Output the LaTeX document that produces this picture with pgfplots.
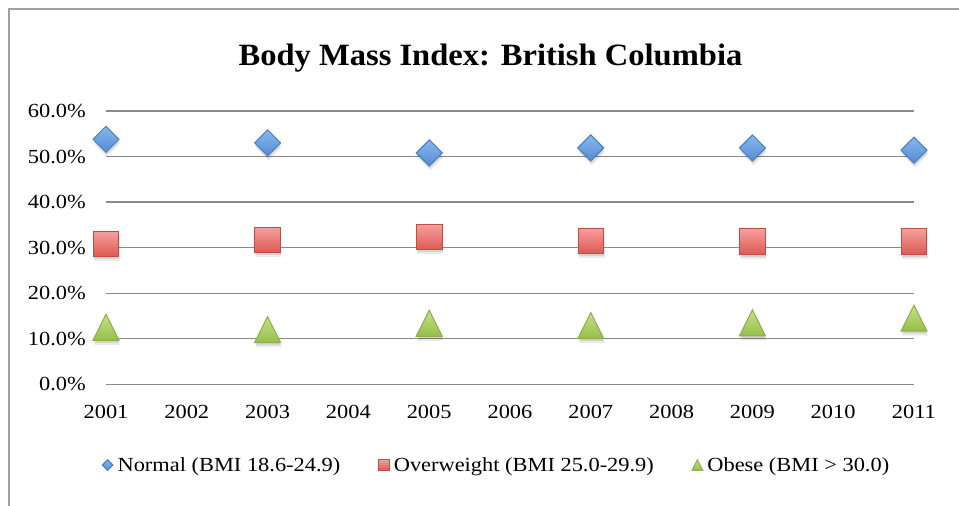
\documentclass[border=0pt]{standalone}
\usepackage{fontspec}
\setmainfont{Liberation Serif}[FakeStretch=1.12]
\newfontfamily\titlefont{Liberation Serif}[FakeStretch=1.05]
\usepackage{pgfplots}
\pgfplotsset{compat=1.18}
\definecolor{nlight}{RGB}{135,185,238}
\definecolor{ndark}{RGB}{85,140,210}
\definecolor{ndraw}{RGB}{70,125,195}
\definecolor{olight}{RGB}{246,160,158}
\definecolor{odark}{RGB}{222,88,82}
\definecolor{odraw}{RGB}{195,75,70}
\definecolor{blight}{RGB}{198,225,135}
\definecolor{bdark}{RGB}{150,190,75}
\definecolor{bdraw}{RGB}{140,175,72}
\definecolor{gridc}{RGB}{138,138,138}
\definecolor{framec}{RGB}{160,160,160}
\pgfdeclareverticalshading{nshade}{100bp}{color(0bp)=(ndark); color(25bp)=(ndark); color(75bp)=(nlight); color(100bp)=(nlight)}
\pgfdeclareverticalshading{oshade}{100bp}{color(0bp)=(odark); color(25bp)=(odark); color(75bp)=(olight); color(100bp)=(olight)}
\pgfdeclareverticalshading{bshade}{100bp}{color(0bp)=(bdark); color(25bp)=(bdark); color(75bp)=(blight); color(100bp)=(blight)}
\def\diapath{%
  \pgfpathmoveto{\pgfqpoint{0pt}{\pgfplotmarksize}}%
  \pgfpathlineto{\pgfqpoint{\pgfplotmarksize}{0pt}}%
  \pgfpathlineto{\pgfqpoint{0pt}{-\pgfplotmarksize}}%
  \pgfpathlineto{\pgfqpoint{-\pgfplotmarksize}{0pt}}%
  \pgfpathclose}
\def\tripath{%
  \pgfpathmoveto{\pgfqpoint{0pt}{\pgfplotmarksize}}%
  \pgfpathlineto{\pgfqpoint{\pgfplotmarksize}{-\pgfplotmarksize}}%
  \pgfpathlineto{\pgfqpoint{-\pgfplotmarksize}{-\pgfplotmarksize}}%
  \pgfpathclose}
\def\sqpath{%
  \pgfpathrectangle{\pgfqpoint{-\pgfplotmarksize}{-\pgfplotmarksize}}{\pgfqpoint{2\pgfplotmarksize}{2\pgfplotmarksize}}}
\pgfdeclareplotmark{xdia}{\diapath\pgfshadepath{nshade}{0}\pgfusepathqstroke}
\pgfdeclareplotmark{xsq}{\sqpath\pgfshadepath{oshade}{0}\pgfusepathqstroke}
\pgfdeclareplotmark{xtri}{\tripath\pgfshadepath{bshade}{0}\pgfusepathqstroke}
\pgfdeclareplotmark{xdiaS}{\diapath\pgfusepathqfill}
\pgfdeclareplotmark{xsqS}{\sqpath\pgfusepathqfill}
\pgfdeclareplotmark{xtriS}{\tripath\pgfusepathqfill}
\pgfplotsset{shadowA/.style={only marks, forget plot, mark options={fill=black, draw=none, fill opacity=0.10, yshift=-2.5bp, xshift=0.5bp}},
  shadowB/.style={only marks, forget plot, mark options={fill=black, draw=none, fill opacity=0.08, yshift=-4.5bp, xshift=1bp}}}
\pgfplotstableread{
x n o b
2001 53.8 30.8 12.5
2003 53.0 31.7 12.0
2005 50.8 32.3 13.4
2007 51.9 31.5 12.9
2009 51.9 31.3 13.5
2011 51.4 31.3 14.5
}\bmidata
\begin{document}
\begin{tikzpicture}[x=1bp,y=1bp]
\useasboundingbox (0,0) rectangle (959,506);
\fill[white] (0,0) rectangle (959,506);
\draw[framec, line width=1.5bp] (9,0) -- (9,497) -- (959,497);
\node[font=\fontsize{31bp}{36bp}\titlefont\bfseries, anchor=base] at (490.5,440.5) {Body Mass Index: British Columbia};
\begin{axis}[
  at={(106bp,121.7bp)}, anchor=south west,
  scale only axis, width=808bp, height=273.3bp,
  xmin=2001, xmax=2011, ymin=0, ymax=60,
  clip=false,
  axis line style={draw=none},
  major tick length=0pt,
  ymajorgrids,
  major grid style={gridc, line width=1.3bp},
  xtick={2001,2002,...,2011},
  ytick={0,10,...,60},
  /pgf/number format/assume math mode=true,
  /pgf/number format/1000 sep={},
  ticklabel style={font=\fontsize{20bp}{24bp}\selectfont},
  yticklabel={\pgfmathprintnumber[fixed,fixed zerofill,precision=1]{\tick}\%},
  yticklabel style={anchor=east, inner sep=0pt, xshift=-20bp},
  xticklabel style={anchor=north, inner sep=0pt, yshift=-21bp},
  legend columns=3,
  legend style={draw=none, fill=none, at={(0.4835,-0.2953)}, anchor=center,
    font=\fontsize{20bp}{24bp}\selectfont,
    /tikz/every even column/.append style={column sep=36bp},
    nodes={inner sep=2bp}},
  legend image code/.code={\path[draw=none,fill=none] (-5.5bp,0bp) rectangle (8bp,0.1bp); \draw[#1, mark size=5.3bp, line width=0.7bp] plot coordinates {(0bp,0bp)};},
]
\addplot[shadowA, mark=xdiaS, mark size=13bp] table[x=x,y=n] {\bmidata};
\addplot[shadowB, mark=xdiaS, mark size=13bp] table[x=x,y=n] {\bmidata};
\addplot[shadowA, mark=xsqS, mark size=12.8bp] table[x=x,y=o] {\bmidata};
\addplot[shadowB, mark=xsqS, mark size=12.8bp] table[x=x,y=o] {\bmidata};
\addplot[shadowA, mark=xtriS, mark size=13bp] table[x=x,y=b] {\bmidata};
\addplot[shadowB, mark=xtriS, mark size=13bp] table[x=x,y=b] {\bmidata};
\addplot[only marks, mark=xdia, mark size=13bp, mark options={draw=ndraw, line width=1bp}]
  table[x=x,y=n] {\bmidata};
\addlegendentry{Normal (BMI 18.6-24.9)}
\addplot[only marks, mark=xsq, mark size=12.8bp, mark options={draw=odraw, line width=1bp}]
  table[x=x,y=o] {\bmidata};
\addlegendentry{Overweight (BMI 25.0-29.9)}
\addplot[only marks, mark=xtri, mark size=13bp, mark options={draw=bdraw, line width=1bp}]
  table[x=x,y=b] {\bmidata};
\addlegendentry{Obese (BMI > 30.0)}
\end{axis}
\end{tikzpicture}
\end{document}
